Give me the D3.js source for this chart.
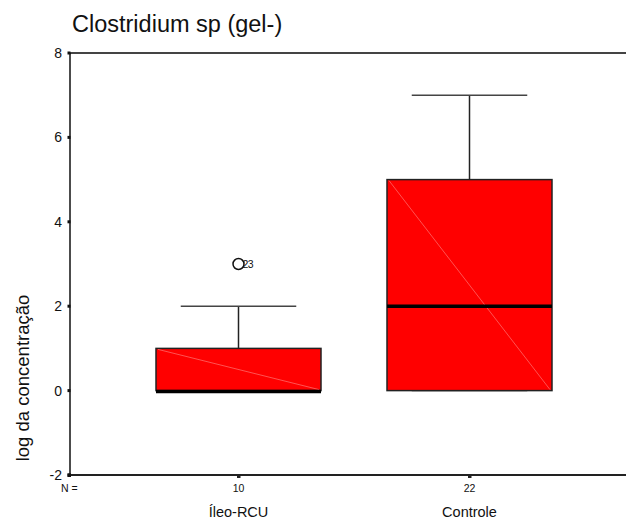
<!DOCTYPE html>
<html>
<head>
<meta charset="utf-8">
<script src="https://cdn.jsdelivr.net/npm/d3@7"></script>
<style>
  body { margin: 0; background: #fff; }
  svg { display: block; font-family: "Liberation Sans", Arial, sans-serif; }
</style>
</head>
<body>
<svg id="chart" width="626" height="524"></svg>
<script>
// Box-plot summaries per group
const groups = ["Íleo-RCU", "Controle"];
const counts = [10, 22];
const q1 = [0, 0];
const medians = [0, 2];
const q3 = [1, 5];
const whiskerLow = [0, 0];
const whiskerHigh = [2, 7];
const outliers = [{ group: "Íleo-RCU", value: 3, id: "23" }];
const yTicks = [-2, 0, 2, 4, 6, 8];

const svg = d3.select("#chart");
const plotLeft = 70, plotRight = 626, plotTop = 53, plotBottom = 475;

const y = d3.scaleLinear().domain([-2, 8]).range([plotBottom, plotTop]);

// Box positions (band width 165, gap 66)
const xBox = d3.scaleBand().domain(groups).range([156, 552]).paddingInner(66 / 231).paddingOuter(0);
const xc = g => xBox(g) + xBox.bandwidth() / 2;

// Frame: top line, bottom axis, left axis
svg.append("line").attr("x1", plotLeft).attr("x2", plotRight).attr("y1", y(8)).attr("y2", y(8))
  .attr("stroke", "#444").attr("stroke-width", 2);
svg.append("line").attr("x1", plotLeft - 1).attr("x2", plotRight).attr("y1", y(-2)).attr("y2", y(-2))
  .attr("stroke", "#222").attr("stroke-width", 2);
svg.append("line").attr("x1", plotLeft).attr("x2", plotLeft).attr("y1", y(8)).attr("y2", y(-2))
  .attr("stroke", "#111").attr("stroke-width", 1.5);

// Y ticks
const yAxis = svg.append("g");
yTicks.forEach(t => {
  yAxis.append("rect").attr("x", plotLeft - 2.5).attr("y", y(t) - 1.5).attr("width", 3).attr("height", 3).attr("fill", "#111");
  yAxis.append("text").attr("x", plotLeft - 8).attr("y", y(t) + 5).attr("text-anchor", "end")
    .attr("font-size", 14).attr("fill", "#111").text(t);
});

// X ticks (corner marker plus one per group)
svg.append("rect").attr("x", plotLeft - 2.5).attr("y", y(-2) - 1.5).attr("width", 3.5).attr("height", 3.5).attr("fill", "#111");
groups.forEach(g => {
  svg.append("rect").attr("x", xc(g) - 1.5).attr("y", y(-2) - 0.5).attr("width", 3.5).attr("height", 3.5).attr("fill", "#222");
});

// N row and category names
svg.append("text").attr("x", 61).attr("y", 492).attr("font-size", 10.5).attr("fill", "#111").text("N =");
groups.forEach((g, i) => {
  svg.append("text").attr("x", xc(g)).attr("y", 492).attr("text-anchor", "middle")
    .attr("font-size", 10.5).attr("fill", "#111").text(counts[i]);
  svg.append("text").attr("x", xc(g)).attr("y", 517).attr("text-anchor", "middle")
    .attr("font-size", 14.5).attr("fill", "#111").text(g);
});

// Boxes
groups.forEach((g, i) => {
  const x0 = xBox(g), w = xBox.bandwidth(), cx = xc(g);
  const gg = svg.append("g");
  // whisker stems
  gg.append("line").attr("x1", cx).attr("x2", cx).attr("y1", y(q3[i])).attr("y2", y(whiskerHigh[i]))
    .attr("stroke", "#222").attr("stroke-width", 1.5);
  gg.append("line").attr("x1", cx).attr("x2", cx).attr("y1", y(q1[i])).attr("y2", y(whiskerLow[i]))
    .attr("stroke", "#222").attr("stroke-width", 1.5);
  // caps
  [whiskerHigh[i], whiskerLow[i]].forEach(v => {
    gg.append("line").attr("x1", x0 + w * 0.15).attr("x2", x0 + w * 0.85).attr("y1", y(v)).attr("y2", y(v))
      .attr("stroke", "#444").attr("stroke-width", 1.5);
  });
  // box
  gg.append("rect").attr("x", x0).attr("y", y(q3[i])).attr("width", w).attr("height", y(q1[i]) - y(q3[i]))
    .attr("fill", "#ff0000").attr("stroke", "#222").attr("stroke-width", 1.5);
  // diagonal sheen line
  gg.append("line").attr("x1", x0 + 2).attr("y1", y(q3[i]) + 1).attr("x2", x0 + w - 2).attr("y2", y(q1[i]) - 1)
    .attr("stroke", "#ff8a8a").attr("stroke-width", 0.6);
  // median
  const my = y(medians[i]) + (medians[i] === q1[i] ? 1 : 0);
  gg.append("line").attr("x1", x0).attr("x2", x0 + w).attr("y1", my).attr("y2", my)
    .attr("stroke", "#000").attr("stroke-width", 3.5);
});

// Outliers
outliers.forEach(o => {
  const cx = xc(o.group);
  svg.append("circle").attr("cx", cx).attr("cy", y(o.value)).attr("r", 5.5)
    .attr("fill", "none").attr("stroke", "#111").attr("stroke-width", 1.5);
  svg.append("text").attr("x", cx + 4).attr("y", y(o.value) + 4).attr("font-size", 10.5)
    .attr("fill", "#111").attr("letter-spacing", -0.5).text(o.id);
});

// Title
svg.append("text").attr("x", 72).attr("y", 32).attr("font-size", 23.5).attr("fill", "#111")
  .text("Clostridium sp (gel-)");

// Y axis title
svg.append("text").attr("transform", "translate(29,378) rotate(-90)").attr("text-anchor", "middle")
  .attr("font-size", 18.5).attr("fill", "#111").text("log da concentração");
</script>
</body>
</html>
